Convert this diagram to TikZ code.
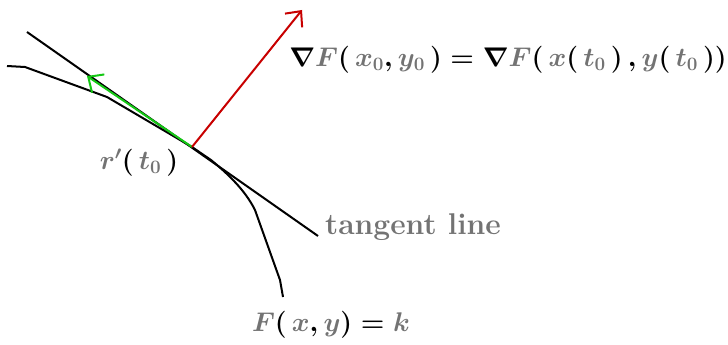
\RequirePackage{fix-cm}
\documentclass[tikz,border=0pt]{standalone}
\usetikzlibrary{arrows.meta}
\definecolor{txtgray}{RGB}{115,115,115}
\definecolor{gradred}{RGB}{200,0,0}
\definecolor{tangreen}{RGB}{20,200,20}
\newcommand{\gc}{\color{txtgray}}
\newcommand{\bc}{\color{black}}
\begin{document}
\begin{tikzpicture}[x=1pt,y=-1pt,
  curveline/.style={line width=2pt,black},
  vecarrow/.style={line width=2pt,-{Straight Barb[length=12pt,width=22pt,line width=2pt]}},
  lbl/.style={inner sep=0pt,text=txtgray,font=\fontsize{30}{32}\selectfont\bfseries\boldmath},
  mlbl/.style={inner sep=0pt,text=txtgray,font=\fontsize{27}{30}\selectfont\bfseries\boldmath}]
\useasboundingbox (0,0) rectangle (728,345);
% key points
\coordinate (P) at (192,147);
\coordinate (T1) at (27,32);
\coordinate (T2) at (318,236);
\coordinate (G) at (87,76);
\coordinate (R) at (302,10);
% level curve
\draw[curveline] (7,66) -- (25,67) -- (107,97) -- (P) -- (211,160)
  .. controls (228,174) and (245,190) .. (255,210) -- (280,280) -- (283,297);
% tangent line
\draw[curveline] (T1) -- (T2);
% vectors
\draw[vecarrow,tangreen] (P) -- (G);
\draw[vecarrow,gradred] (P) -- (R);
% labels
\node[mlbl] (grad) at (508,60) {$\bc\nabla\gc F\bc(\,\gc x_0\bc,\gc y_0\,\bc)=\nabla\gc F\bc(\,\gc x\bc(\,\gc t_0\,\bc)\,,\gc y\bc(\,\gc t_0\,\bc))$};
\node[mlbl] (rp) at (139,163) {$r'\bc(\,\gc t_0\,\bc)$};
\node[lbl] (tl) at (413,227) {tangent line};
\node[mlbl] (lev) at (331,325) {$F\bc(\,\gc x\bc,\gc y\bc)=\gc k$};
\end{tikzpicture}
\end{document}
